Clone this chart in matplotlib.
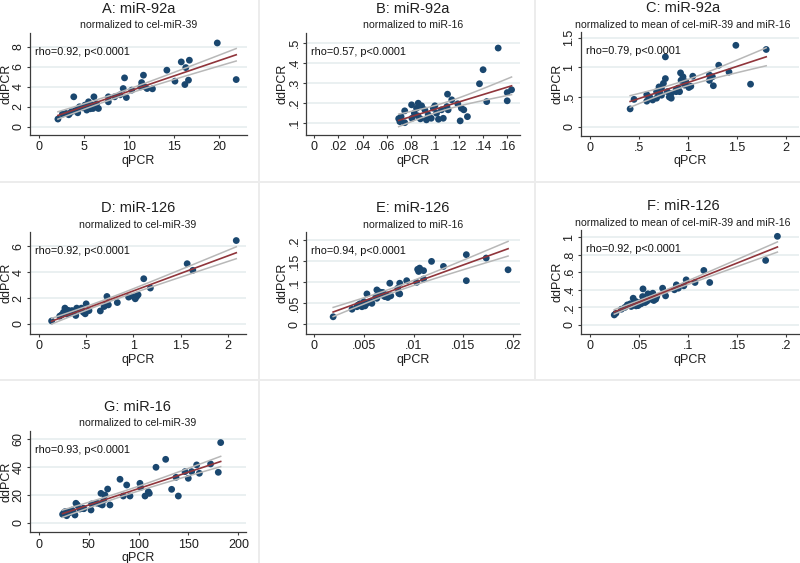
"""
ddPCR vs qPCR scatter panels with linear fit and 95% CI (Stata-like look).
"""
import matplotlib
matplotlib.use("Agg")
import matplotlib.pyplot as plt
from matplotlib.lines import Line2D
import numpy as np

plt.rcParams["font.family"] = ["Liberation Sans", "DejaVu Sans"]

# ---- data ----
a_x = [2.1, 2.6, 3.86, 3.4, 4.2, 4.5, 5.1, 5.5, 5.3, 6.0, 6.1, 6.4, 6.6, 7.7, 7.7, 8.4, 9.35, 9.5,
       9.7, 10.3, 11.4, 11.6, 11.75, 12.0, 12.6, 14.2, 15.1, 15.8, 16.2, 16.3, 16.6, 16.7, 19.8, 21.9,
       3.0, 3.3, 3.6, 4.0, 4.3, 4.8, 5.2, 5.7, 5.9, 6.2, 11.3, 9.0]
a_y = [0.77, 1.27, 3.0, 1.33, 1.67, 2.0, 2.17, 2.5, 1.67, 1.83, 3.0, 2.3, 1.83, 2.5, 3.0, 3.0, 3.83, 4.9,
       2.93, 3.67, 4.43, 5.17, 4.0, 3.83, 3.8, 5.67, 4.57, 6.5, 4.23, 5.93, 4.67, 6.67, 8.4, 4.73,
       1.33, 1.2, 1.5, 1.6, 1.4, 1.9, 2.1, 1.8, 2.2, 2.1, 4.0, 3.2]

b_x = [0.1525, 0.140, 0.137, 0.160, 0.1636, 0.160, 0.143, 0.1105, 0.114, 0.110, 0.119, 0.122, 0.124,
       0.127, 0.121, 0.089, 0.0862, 0.0807, 0.0848, 0.0917, 0.0987, 0.0945, 0.1014, 0.103, 0.107,
       0.088, 0.093, 0.075, 0.072, 0.070, 0.071, 0.075, 0.081, 0.097, 0.1055, 0.111, 0.100, 0.083, 0.086]
b_y = [0.475, 0.367, 0.297, 0.253, 0.267, 0.212, 0.208, 0.245, 0.217, 0.183, 0.197, 0.175, 0.167,
       0.133, 0.112, 0.187, 0.200, 0.192, 0.175, 0.167, 0.175, 0.142, 0.150, 0.120, 0.125,
       0.122, 0.117, 0.162, 0.133, 0.123, 0.108, 0.103, 0.125, 0.125, 0.167, 0.167, 0.187, 0.150, 0.137]

c_x = [0.41, 0.45, 0.58, 0.58, 0.61, 0.68, 0.705, 0.71, 0.73, 0.75, 0.77, 0.77, 0.79, 0.81, 0.83, 0.88,
       0.90, 0.925, 0.93, 0.95, 0.966, 0.98, 1.01, 1.03, 1.05, 1.22, 1.22, 1.25, 1.26, 1.315, 1.42,
       1.49, 1.64, 1.80, 0.64, 0.83, 0.88, 0.73, 0.68, 0.915]
c_y = [0.30, 0.46, 0.54, 0.43, 0.50, 0.48, 0.67, 0.60, 0.53, 0.73, 0.81, 1.175, 0.59, 0.50, 0.56, 0.62,
       0.65, 0.906, 0.78, 0.84, 0.70, 0.755, 0.66, 0.68, 0.85, 0.87, 0.78, 0.84, 0.69, 1.035, 0.92,
       1.37, 0.716, 1.30, 0.45, 0.48, 0.59, 0.65, 0.59, 0.59]

d_x = [0.134, 0.24, 0.275, 0.29, 0.33, 0.35, 0.39, 0.40, 0.45, 0.49, 0.50, 0.53, 0.65, 0.69, 0.71,
       0.72, 0.735, 0.83, 0.95, 1.0, 1.02, 1.035, 1.05, 1.11, 1.18, 1.57, 1.63, 2.09,
       0.22, 0.26, 0.30, 0.37, 0.43, 0.47, 0.31]
d_y = [0.23, 0.70, 1.22, 0.96, 0.83, 1.03, 0.65, 1.22, 1.22, 0.78, 1.55, 1.03, 1.0, 1.34, 1.47,
       2.12, 1.47, 1.65, 2.07, 2.12, 1.94, 2.12, 2.25, 3.49, 2.77, 4.65, 4.14, 6.44,
       0.6, 0.9, 0.75, 0.95, 1.1, 0.9, 1.05]

e_x = [0.0019, 0.0038, 0.0043, 0.0046, 0.0048, 0.0050, 0.0051, 0.0053, 0.0053, 0.0058, 0.0063, 0.0063,
       0.0066, 0.0068, 0.0071, 0.0074, 0.0076, 0.0073, 0.0084, 0.0085, 0.0086, 0.0086, 0.0093, 0.0103,
       0.0104, 0.0105, 0.0106, 0.0110, 0.0110, 0.0118, 0.0130, 0.0153, 0.0153, 0.0173, 0.0195,
       0.0044, 0.0057, 0.0062, 0.0069, 0.0077]
e_y = [0.018, 0.036, 0.042, 0.049, 0.042, 0.054, 0.044, 0.050, 0.0725, 0.050, 0.082, 0.062,
       0.077, 0.070, 0.066, 0.064, 0.098, 0.070, 0.086, 0.074, 0.098, 0.0725, 0.104, 0.100,
       0.131, 0.126, 0.134, 0.128, 0.108, 0.150, 0.138, 0.166, 0.104, 0.158, 0.130,
       0.046, 0.055, 0.066, 0.076, 0.068]

f_x = [0.0247, 0.0264, 0.032, 0.0356, 0.038, 0.041, 0.042, 0.044, 0.0447, 0.0468, 0.047, 0.051, 0.0536,
       0.054, 0.056, 0.059, 0.062, 0.064, 0.065, 0.067, 0.068, 0.074, 0.077, 0.086, 0.088, 0.090,
       0.0956, 0.098, 0.107, 0.116, 0.122, 0.179, 0.191, 0.049, 0.058, 0.052, 0.063, 0.045]
f_y = [0.114, 0.133, 0.179, 0.20, 0.228, 0.24, 0.21, 0.304, 0.228, 0.266, 0.217, 0.255, 0.323,
       0.41, 0.255, 0.354, 0.304, 0.361, 0.278, 0.293, 0.323, 0.418, 0.331, 0.40, 0.456, 0.418,
       0.445, 0.513, 0.483, 0.62, 0.483, 0.734, 1.008, 0.22, 0.27, 0.24, 0.29, 0.26]

g_x = [23.7, 26.1, 27.8, 29.4, 31.1, 34.4, 36.1, 37.1, 38.5, 41.1, 44.5, 52.2, 52.8, 61.2, 62.2, 63.5,
       66.2, 68.9, 71.2, 81.3, 84.6, 88.0, 91.3, 101.3, 102.0, 106.4, 109.7, 110.7, 117.4, 127.1,
       133.1, 137.5, 139.8, 146.5, 149.8, 153.2, 158.2, 160.9, 172.2, 179.9, 182.3,
       25.0, 28.0, 33.0, 45.0, 58.0, 65.0]
g_y = [6.0, 7.9, 5.0, 6.7, 7.4, 7.9, 5.5, 13.9, 12.7, 9.8, 10.3, 9.1, 13.4, 13.4, 21.0, 12.7,
       19.8, 24.1, 12.7, 31.1, 19.1, 27.0, 19.1, 28.2, 25.3, 19.1, 22.2, 21.0, 39.7, 45.4,
       23.9, 32.5, 19.1, 36.6, 31.8, 36.6, 41.4, 35.4, 42.1, 36.1, 57.4,
       7.0, 8.0, 9.0, 10.0, 14.0, 16.0]

titles = ["A: miR-92a", "B: miR-92a", "C: miR-92a", "D: miR-126", "E: miR-126", "F: miR-126",
          "G: miR-16"]
subtitles = ["normalized to cel-miR-39", "normalized to miR-16",
             "normalized to mean of cel-miR-39 and miR-16",
             "normalized to cel-miR-39", "normalized to miR-16",
             "normalized to mean of cel-miR-39 and miR-16", "normalized to cel-miR-39"]
rho_texts = ["rho=0.92, p<0.0001", "rho=0.57, p<0.0001", "rho=0.79, p<0.0001",
             "rho=0.92, p<0.0001", "rho=0.94, p<0.0001", "rho=0.92, p<0.0001",
             "rho=0.93, p<0.0001"]

x_ticks = [[0, 5, 10, 15, 20], [0, .02, .04, .06, .08, .1, .12, .14, .16], [0, .5, 1, 1.5, 2],
           [0, .5, 1, 1.5, 2], [0, .005, .01, .015, .02], [0, .05, .1, .15, .2], [0, 50, 100, 150, 200]]
x_labels = [["0", "5", "10", "15", "20"],
            ["0", ".02", ".04", ".06", ".08", ".1", ".12", ".14", ".16"],
            ["0", ".5", "1", "1.5", "2"], ["0", ".5", "1", "1.5", "2"],
            ["0", ".005", ".01", ".015", ".02"], ["0", ".05", ".1", ".15", ".2"],
            ["0", "50", "100", "150", "200"]]
y_ticks = [[0, 2, 4, 6, 8], [.1, .2, .3, .4, .5], [0, .5, 1, 1.5], [0, 2, 4, 6],
           [0, .05, .1, .15, .2], [0, .2, .4, .6, .8, 1], [0, 20, 40, 60]]
y_labels = [["0", "2", "4", "6", "8"], [".1", ".2", ".3", ".4", ".5"], ["0", ".5", "1", "1.5"],
            ["0", "2", "4", "6"], ["0", ".05", ".1", ".15", ".2"],
            ["0", ".2", ".4", ".6", ".8", "1"], ["0", "20", "40", "60"]]
x_lims = [(-1.0, 23.1), (-0.0071, 0.1706), (-0.095, 2.135), (-0.095, 2.19),
          (-0.00086, 0.0207), (-0.0095, 0.213), (-9.0, 207.4)]
y_lims = [(-0.83, 9.4), (0.0415, 0.55), (-0.151, 1.594), (-0.78, 7.1),
          (-0.023, 0.22), (-0.103, 1.08), (-6.9, 65.7)]

series = [(a_x, a_y), (b_x, b_y), (c_x, c_y), (d_x, d_y), (e_x, e_y), (f_x, f_y), (g_x, g_y)]

# ---- layout in pixels ----
W, H = 800, 563
NAVY = "#1a476f"
MAROON = "#90353b"
CI_GRAY = "#b8b8b8"
GRID = "#e4ecee"
AXIS = "#3c3c3c"
TXT = "#1e1e1e"

# (left, right, top, bottom) of each plot region in pixels
boxes = [(30, 247, 33, 135), (305.7, 520, 33, 135), (580.7, 799, 32, 135.7),
         (30, 245.7, 232, 334), (305.7, 520, 232, 334), (580.7, 799, 230, 334),
         (30, 245.7, 431, 532.3)]

fig = plt.figure(figsize=(W / 100, H / 100), dpi=100)
fig.patch.set_facecolor("white")

# faint panel borders
line_kw = dict(color="#ececec", lw=1.4, transform=fig.transFigure, zorder=0)
fig.add_artist(Line2D([0, 1], [1 - 182 / H] * 2, **line_kw))
fig.add_artist(Line2D([0, 1], [1 - 380 / H] * 2, **line_kw))
fig.add_artist(Line2D([259 / W] * 2, [0, 1], **line_kw))
fig.add_artist(Line2D([535 / W] * 2, [1 - 380 / H, 1], **line_kw))


def fit_ci(x, y, t=2.015):
    x = np.asarray(x, float)
    y = np.asarray(y, float)
    slope, inter = np.polyfit(x, y, 1)
    resid = y - (inter + slope * x)
    n = len(x)
    s = np.sqrt(np.sum(resid ** 2) / (n - 2))
    xs = np.linspace(x.min(), x.max(), 100)
    yhat = inter + slope * xs
    se = s * np.sqrt(1 / n + (xs - x.mean()) ** 2 / np.sum((x - x.mean()) ** 2))
    return xs, yhat, yhat - t * se, yhat + t * se


for i, (l, r, t, b) in enumerate(boxes):
    ax = fig.add_axes([l / W, 1 - b / H, (r - l) / W, (b - t) / H])
    x, y = series[i]

    xs, yhat, lo, hi = fit_ci(x, y)
    ax.scatter(x, y, s=24, color=NAVY, edgecolors="none", zorder=3)
    ax.plot(xs, lo, color=CI_GRAY, lw=1.1, zorder=4)
    ax.plot(xs, hi, color=CI_GRAY, lw=1.1, zorder=4)
    ax.plot(xs, yhat, color=MAROON, lw=1.2, zorder=5)

    ax.set_xlim(*x_lims[i])
    ax.set_ylim(*y_lims[i])
    ax.set_xticks(x_ticks[i])
    ax.set_xticklabels(x_labels[i])
    ax.set_yticks(y_ticks[i])
    ax.set_yticklabels(y_labels[i], rotation=90, va="center")
    ax.tick_params(labelsize=9, length=2.5, width=0.8, pad=2, colors=AXIS, labelcolor=TXT)
    ax.tick_params(axis="y", pad=1.3)
    ax.grid(axis="y", color=GRID, lw=1.1)
    ax.set_axisbelow(True)
    for side in ("top", "right"):
        ax.spines[side].set_visible(False)
    for side in ("left", "bottom"):
        ax.spines[side].set_color(AXIS)
        ax.spines[side].set_linewidth(0.9)

    ax.set_xlabel("qPCR", fontsize=9, labelpad=1, color=TXT)
    # y label placed explicitly so it is not clipped at the figure edge
    fig.text((l - 23.6) / W, 1 - ((t + b) / 2) / H, "ddPCR", rotation=90, fontsize=9,
             ha="center", va="center", color=TXT)

    hpx = b - t
    ax.text(5 / (r - l), 1 - 19 / hpx, rho_texts[i], transform=ax.transAxes,
            fontsize=7.8, va="center", ha="left", color="#111111")

    cx = (l + r) / 2
    if i in (2, 5):
        cx = 683
    fig.text(cx / W, 1 - (t - 24) / H, titles[i], fontsize=10.5, ha="center", va="center",
             color=TXT)
    fig.text(cx / W, 1 - (t - 7.5) / H, subtitles[i], fontsize=7.6, ha="center", va="center",
             color=TXT)

fig.savefig("out.png", dpi=100, facecolor="white")
